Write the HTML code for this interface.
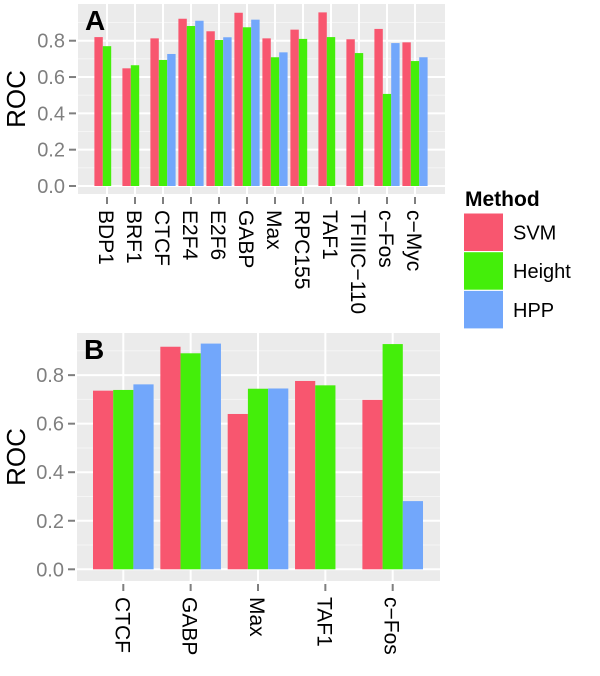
<!DOCTYPE html>
<html><head><meta charset="utf-8"><style>
body{margin:0;background:#fff;width:600px;height:671px;overflow:hidden}
text{font-family:"Liberation Sans",sans-serif}
</style></head><body>
<svg id="chart" width="600" height="671" viewBox="0 0 600 671" xmlns="http://www.w3.org/2000/svg"></svg>
<script>
const catsA = ["BDP1","BRF1","CTCF","E2F4","E2F6","GABP","Max","RPC155","TAF1","TFIIIC\u2212110","c\u2212Fos","c\u2212Myc"];
const svmA = [0.82,0.648,0.813,0.921,0.852,0.954,0.813,0.861,0.956,0.808,0.865,0.791];
const heightA = [0.77,0.665,0.694,0.881,0.804,0.874,0.709,0.81,0.82,0.732,0.507,0.688];
const hppA = [null,null,0.727,0.91,0.819,0.916,0.736,null,null,null,0.787,0.709];
const catsB = ["CTCF","GABP","Max","TAF1","c\u2212Fos"];
const svmB = [0.736,0.917,0.64,0.776,0.698];
const heightB = [0.739,0.89,0.744,0.758,0.928];
const hppB = [0.762,0.93,0.745,null,0.281];
const ticks = [0,0.2,0.4,0.6,0.8];
const tickLabels = ["0.0","0.2","0.4","0.6","0.8"];
const methods = ["SVM","Height","HPP"];
const colors = ["#f8566f","#44ee0a","#72a7fb"];

const NS="http://www.w3.org/2000/svg";
const svg=document.getElementById('chart');
function mk(tag,attrs,parent){const e=document.createElementNS(NS,tag);for(const k in attrs)e.setAttribute(k,attrs[k]);(parent||svg).appendChild(e);return e;}

function panel(p){
  const g=mk('g',{});
  
  
  const y=v=>p.y0-v*p.scale;
  const x=i=>p.c0+i*p.step;
  const bg=mk('rect',{x:p.left,y:p.top,width:p.right-p.left,height:p.bottom-p.top,fill:'#ebebeb'},g);
  
  
  for(let v=0.1;v<p.maxV;v+=0.2){const yy=y(v);if(yy>p.top)mk('line',{x1:p.left,x2:p.right,y1:yy,y2:yy,stroke:'#f5f5f5','stroke-width':1},g);}
  ticks.forEach((v,i)=>{
    const yy=y(v);
    const gl=mk('line',{x1:p.left,x2:p.right,y1:yy,y2:yy,stroke:'#fff','stroke-width':2},g);
    
    
    mk('line',{x1:p.left-9,x2:p.left-2,y1:yy,y2:yy,stroke:'#7f7f7f','stroke-width':2},g);
    const t=mk('text',{x:p.left-13,y:yy+7,'text-anchor':'end','font-size':20,fill:'#7f7f7f'},g);
    t.textContent=tickLabels[i];
    
    
  });
  p.cats.forEach((c,i)=>{
    const xx=x(i);
    mk('line',{x1:xx,x2:xx,y1:p.top,y2:p.bottom,stroke:'#fff','stroke-width':2},g);
    mk('line',{x1:xx,x2:xx,y1:p.bottom+3,y2:p.bottom+10,stroke:'#7f7f7f','stroke-width':2},g);
    const t=mk('text',{x:0,y:0,'font-size':21,fill:'#000',transform:`translate(${xx-8},${p.bottom+16}) rotate(90)`},g);
    t.textContent=c;
    
    
  });
  const bw=p.step*0.9/3;
  [p.svm,p.height,p.hpp].forEach((ser,m)=>{
    ser.forEach((v,i)=>{
      if(v==null)return;
      const bx=x(i)-p.step*0.45+m*bw;
      const r=mk('rect',{x:bx,y:y(v),width:bw,height:y(0)-y(v),fill:colors[m]},g);
      
      
    });
  });
  const lab=mk('text',{x:p.left+7,y:p.top+26,'font-size':28,'font-weight':'bold',fill:'#000'},g);
  lab.textContent=p.label;
  
  
  const yt=mk('text',{x:0,y:0,'font-size':26,fill:'#000','text-anchor':'middle',transform:`translate(25,${p.titleY}) rotate(-90)`},g);
  yt.textContent='ROC';
  
  
}
panel({name:'panel-a',label:'A',cats:catsA,svm:svmA,height:heightA,hpp:hppA,left:78,right:445,top:4,bottom:194,y0:186,scale:181.6,c0:107,step:28,maxV:1.0,titleY:99});
panel({name:'panel-b',label:'B',cats:catsB,svm:svmB,height:heightB,hpp:hppB,left:77,right:440,top:333,bottom:581,y0:569.3,scale:242.7,c0:123.3,step:67.35,maxV:1.0,titleY:457});

const lg=mk('g',{});


const lt=mk('text',{x:465,y:206,'font-size':21,'font-weight':'bold',fill:'#000'},lg);
lt.textContent='Method';


methods.forEach((m,i)=>{
  const ky=213.5+i*38.7;
  const k=mk('rect',{x:464,y:ky,width:39,height:37.5,fill:colors[i]},lg);
  
  
  const t=mk('text',{x:513,y:ky+26,'font-size':20,fill:'#000'},lg);
  t.textContent=m;
  
  
});
</script>
</body></html>
